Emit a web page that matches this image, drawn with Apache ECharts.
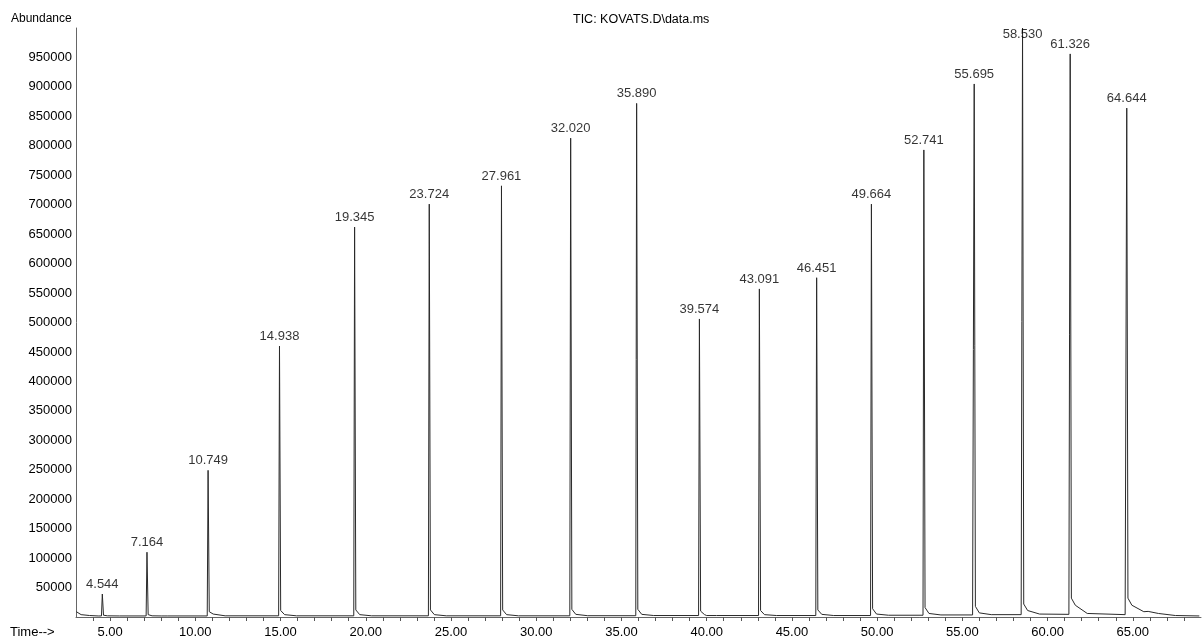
<!DOCTYPE html>
<html>
<head>
<meta charset="utf-8">
<script src="https://cdn.jsdelivr.net/npm/echarts@6/dist/echarts.min.js"></script>
<style>html,body{margin:0;padding:0;background:#fff}#c{width:1202px;height:639px}</style>
</head>
<body>
<div id="c"></div>
<script>
// ---- data ----
const peakTimes   = [4.544, 7.164, 10.749, 14.938, 19.345, 23.724, 27.961, 32.020, 35.890, 39.574, 43.091, 46.451, 49.664, 52.741, 55.695, 58.530, 61.326, 64.644];
const peakLabels  = ["4.544","7.164","10.749","14.938","19.345","23.724","27.961","32.020","35.890","39.574","43.091","46.451","49.664","52.741","55.695","58.530","61.326","64.644"];
const peakHeights = [39000, 110000, 249000, 460000, 662000, 701000, 732000, 813000, 872000, 506000, 557000, 576000, 701000, 793000, 905000, 1000000, 956000, 864000];
// tail levels just after each peak (shortly after, ~0.3 min after, ~1 min after)
const tailA = [3000, 4000, 9000, 11000, 12000, 12000, 12000, 13000, 13000, 10000, 11000, 12000, 14000, 16000, 18000, 22000, 32000, 32000];
const tailB = [2000, 2000, 5000, 4000, 4000, 4000, 4000, 4500, 4500, 4000, 4000, 4500, 5000, 6000, 7000, 11000, 20000, 20000];
const tailC = [1800, 1800, 2000, 2000, 2000, 2000, 2000, 2200, 2500, 2500, 2500, 2500, 3000, 3500, 4000, 5000, 6000, 9000];
// baseline between peaks
const baseTimes = [3.02, 3.3, 3.8, 4.3, 8.0, 8.18, 8.35, 11.8, 40.0, 53.8, 55.6, 56.7, 58.45, 59.6, 61.25, 62.4, 64.55, 65.9, 66.5, 67.5, 68.9];
const baseVals  = [9000, 4000, 2500, 1800, 1800, 5000, 1800, 1800, 2500, 3500, 3500, 4000, 4000, 5000, 4500, 5000, 4000, 9500, 6000, 2500, 1800];
const yTicks = [50000,100000,150000,200000,250000,300000,350000,400000,450000,500000,550000,600000,650000,700000,750000,800000,850000,900000,950000];

// ---- build the trace ----
const pts = [];
for (let i = 0; i < baseTimes.length; i++) pts.push([baseTimes[i], baseVals[i]]);
for (let i = 0; i < peakTimes.length; i++) {
  const t = peakTimes[i];
  const pre = i > 0 ? tailC[i - 1] : 1800;
  pts.push([t - 0.05, pre]);
  pts.push([t, peakHeights[i]]);
  pts.push([t + 0.07, tailA[i]]);
  pts.push([t + 0.3, tailB[i]]);
  pts.push([t + 1.0, tailC[i]]);
}
pts.sort((a, b) => a[0] - b[0]);

const labelPts = peakTimes.map((t, i) => {
  const item = { value: [t, peakHeights[i]] };
  if (peakHeights[i] >= 1000000) item.label = { position: 'inside', offset: [0, 6] };
  return item;
});

const chart = echarts.init(document.getElementById('c'), null, { renderer: 'canvas' });
const FONT = '"Liberation Sans", Arial, sans-serif';
chart.setOption({
  animation: false,
  backgroundColor: '#fff',
  grid: { left: 76, top: 28, width: 1125, height: 589, containLabel: false },
  xAxis: {
    type: 'value', min: 3, max: 69, interval: 1,
    axisLine: { show: true, lineStyle: { color: '#666', width: 1 } },
    axisTick: { show: true, length: 4, lineStyle: { color: '#555' } },
    splitLine: { show: false },
    axisLabel: {
      color: '#000', fontSize: 13, fontFamily: FONT, margin: 9,
      showMinLabel: false, showMaxLabel: false,
      formatter: v => (Math.abs(v % 5) < 1e-9 ? v.toFixed(2) : '')
    }
  },
  yAxis: {
    type: 'value', min: 0, max: 1000000, interval: 50000,
    axisLine: { show: true, lineStyle: { color: '#666', width: 1 } },
    axisTick: { show: false },
    splitLine: { show: false },
    axisLabel: {
      color: '#000', fontSize: 13, fontFamily: FONT, margin: 4,
      formatter: v => (yTicks.indexOf(v) >= 0 ? String(v) : '')
    }
  },
  series: [
    {
      type: 'line', data: pts, showSymbol: false, symbol: 'none', smooth: false,
      lineStyle: { color: '#2a2a2a', width: 1 }, clip: true, z: 3
    },
    {
      type: 'scatter', data: labelPts, symbolSize: 0, clip: false, z: 4,
      label: {
        show: true, position: 'top', distance: 3,
        color: '#000', fontSize: 13, fontFamily: FONT,
        formatter: p => peakLabels[p.dataIndex]
      }
    }
  ],
  graphic: [
    { type: 'text', left: 11, top: 13, style: { text: 'Abundance', fill: '#000', font: '12px ' + FONT } },
    { type: 'text', left: 10, top: 626, style: { text: 'Time-->', fill: '#000', font: '13px ' + FONT } },
    { type: 'text', left: 573, top: 13, style: { text: 'TIC: KOVATS.D\\data.ms', fill: '#000', font: '12.5px ' + FONT } }
  ]
});
</script>
</body>
</html>
